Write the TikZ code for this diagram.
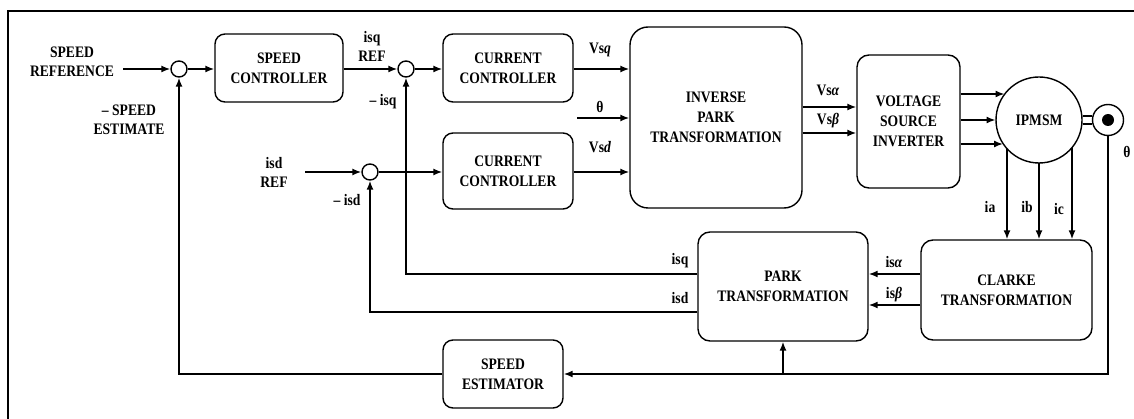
\documentclass[tikz,border=0pt]{standalone}
\usepackage{fontspec}
\setmainfont{Liberation Serif}[FakeStretch=0.85]
\usetikzlibrary{arrows.meta,calc}

\begin{document}
\begin{tikzpicture}[x=1pt,y=-1pt,line width=1.5pt,>={Latex[length=9pt,width=7pt]},
  every node/.style={font=\bfseries\fontsize{16}{20}\selectfont,align=center},
  block/.style={draw,line width=1.4pt,rounded corners=10pt,inner sep=0pt},
  sumpt/.style={draw,line width=1.4pt,circle,minimum size=16pt,inner sep=0pt},
  lbl/.style={font=\bfseries\fontsize{16}{19}\selectfont}]

\useasboundingbox (0,0) rectangle (1134,419);

%Rahmen
\draw (8,419) -- (8,11) -- (1134,11);

%Bloecke
\node[block,minimum width=128pt,minimum height=68pt] (spc) at (279,68) {SPEED\\CONTROLLER};
\node[block,minimum width=130pt,minimum height=68pt] (cc1) at (508,68) {CURRENT\\CONTROLLER};
\node[block,minimum width=130pt,minimum height=76pt] (cc2) at (508,171) {CURRENT\\CONTROLLER};
\node[block,rounded corners=18pt,minimum width=172pt,minimum height=181pt] (ipt) at (716,117.5) {INVERSE\\PARK\\TRANSFORMATION};
\node[block,rounded corners=12pt,minimum width=103pt,minimum height=133pt] (vsi) at (908.5,121.5) {VOLTAGE\\SOURCE\\INVERTER};
\node[block,rounded corners=12pt,minimum width=170pt,minimum height=109pt] (park) at (783,286.5) {PARK\\TRANSFORMATION};
\node[block,rounded corners=12pt,minimum width=171pt,minimum height=100pt] (clarke) at (1006.5,290) {CLARKE\\TRANSFORMATION};
\node[block,minimum width=120pt,minimum height=68pt] (spe) at (503,374) {SPEED\\ESTIMATOR};

%Summierer
\node[sumpt] (sum1) at (179,69) {};
\node[sumpt] (sum2) at (406,69) {};
\node[sumpt] (sum3) at (370,172) {};

%Motor und Geber
\node[draw,line width=1.4pt,circle,minimum size=86pt,inner sep=0pt] (motor) at (1039,120) {IPMSM};
\node[draw,line width=1.4pt,circle,minimum size=31pt,inner sep=0pt] (enc) at (1108,120) {};
\node[circle,fill,minimum size=12pt,inner sep=0pt] (encdot) at (enc) {};
\draw ($(motor.east)+(0,-4)$) -- ($(enc.west)+(0,-4)$);
\draw ($(motor.east)+(0,4)$) -- ($(enc.west)+(0,4)$);

%Klemmen am Motor
\coordinate (ua) at ($(motor.center)+(-34.5,-26)$);
\coordinate (ub) at ($(motor.center)+(-43.5,0)$);
\coordinate (uc) at ($(motor.center)+(-36,24)$);
\coordinate (ia) at ($(motor.center)+(-32,29)$);
\coordinate (ib) at ($(motor.center)+(0,43.5)$);
\coordinate (ic) at ($(motor.center)+(33,28)$);

%Eingaenge
\coordinate (wref) at (123,69);
\coordinate (idref) at (305,172);
\coordinate (thref) at (577,118);
\node[lbl] (twref) at (72,61.5) {SPEED\\REFERENCE};
\node[lbl] (twest) at (129,120) {– SPEED\\ESTIMATE};
\node[lbl] (tiqref) at (372,46) {isq\\REF};
\node[lbl] (tiq) at (383,102) {– isq};
\node[lbl] (tidref) at (274,172) {isd\\REF};
\node[lbl] (tid) at (347,200) {– isd};

\draw[->] (wref) -- (sum1.west);
\draw[->] (sum1.east) -- (spc.west |- sum1);
\draw[->] (spc.east |- sum2) -- (sum2.west);
\draw[->] (sum2.east) -- (cc1.west |- sum2);
\draw[->] (idref) -- (sum3.west);
\draw[->] (sum3.east) -- (cc2.west |- sum3);

%Inverse Park
\draw[->] (cc1.east |- sum2) -- (ipt.west |- sum2);
\node[lbl] (tvsq) at (600,50) {Vs\textit{q}};
\draw[->] (thref) -- (thref -| ipt.west);
\node[lbl] (tth1) at (600,107) {θ};
\draw[->] (cc2.east |- sum3) -- (ipt.west |- sum3);
\node[lbl] (tvsd) at (600,147) {Vs\textit{d}};

\coordinate (va) at ([yshift=10.5pt]ipt.east);
\coordinate (vb) at ([yshift=-15.5pt]ipt.east);
\draw[->] (va) -- (va -| vsi.west);
\draw[->] (vb) -- (vb -| vsi.west);
\node[lbl] (tva) at (828,90) {Vs\textit{α}};
\node[lbl] (tvb) at (828,121) {Vs\textit{β}};

%Umrichter -> Motor
\draw[->] (vsi.east |- ua) -- (ua);
\draw[->] (vsi.east |- ub) -- (ub);
\draw[->] (vsi.east |- uc) -- (uc);

%Stroeme
\draw[->] (ia) -- (ia |- clarke.north);
\draw[->] (ib) -- (ib |- clarke.north);
\draw[->] (ic) -- (ic |- clarke.north);
\node[lbl] (tia) at (990,207) {ia};
\node[lbl] (tib) at (1027,207) {ib};
\node[lbl] (tic) at (1059,209) {ic};

\coordinate (ca) at ([yshift=16pt]clarke.west);
\coordinate (cb) at ([yshift=-15pt]clarke.west);
\draw[->] (ca) -- (ca -| park.east);
\draw[->] (cb) -- (cb -| park.east);
\node[lbl] (tisa) at (894,262) {is\textit{α}};
\node[lbl] (tisb) at (894,295) {is\textit{β}};

%Rueckfuehrung isq, isd
\coordinate (isqin) at ([yshift=12.5pt]park.west);
\coordinate (isdin) at ([yshift=-25.5pt]park.west);
\draw[->] (isqin) -- (sum2 |- isqin) -- (sum2.south);
\draw[->] (isdin) -- (sum3 |- isdin) -- (sum3.south);
\node[lbl] (tisq) at (680,261) {isq};
\node[lbl] (tisd) at (680,298) {isd};

%Winkel und Drehzahl
\draw[->] (enc.south) -- (enc.south |- spe.east) -- (spe.east);
\node[lbl] (tth2) at (1127,152) {θ};
\draw[->] (park.south |- spe.east) -- (park.south);
\draw[->] (spe.west) -- (sum1 |- spe.west) -- (sum1.south);

\end{tikzpicture}
\end{document}
